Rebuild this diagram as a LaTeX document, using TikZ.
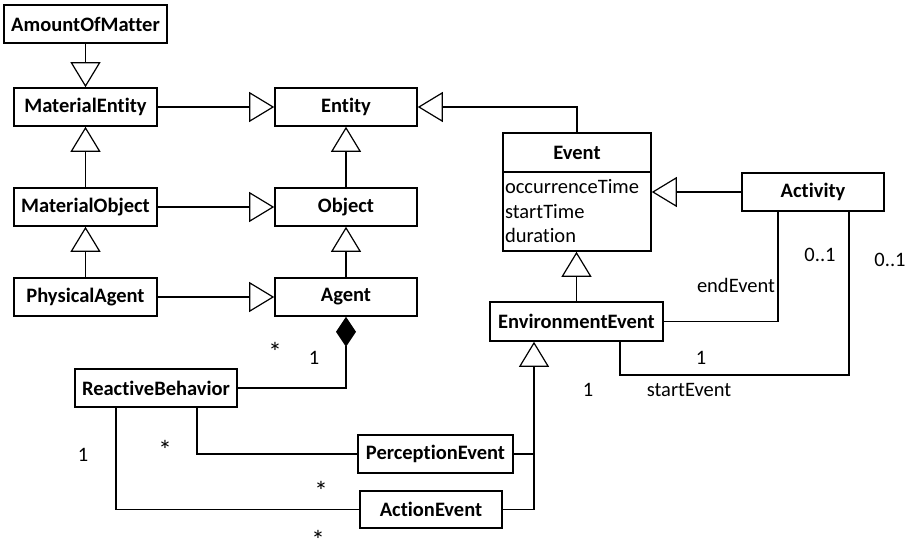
\documentclass[tikz,border=0pt]{standalone}
\usepackage{fontspec}
\setmainfont{Carlito}[Ligatures={NoCommon,NoRare}]
\usetikzlibrary{arrows.meta}
\begin{document}
\begin{tikzpicture}[x=1pt,y=-1pt,
  font=\fontsize{20.5}{24.5}\selectfont,
  cls/.style={draw, line width=1.6pt, inner sep=0pt, font=\fontsize{20.5}{24.5}\selectfont\bfseries, minimum height=38pt},
  conn/.style={line width=1.2pt},
  gen/.style={conn, -{Triangle[open, length=25pt, width=30pt]}},
  comp/.style={conn, {Diamond[length=30pt, width=20pt]}-},
  lbl/.style={inner sep=0pt},
  star/.style={inner sep=0pt, font=\fontsize{27}{30}\selectfont}
]
\useasboundingbox (0,0) rectangle (910,548);
% classes
\node[cls, minimum width=163pt] (aom) at (85.5,24) {AmountOfMatter};
\node[cls, minimum width=143pt] (ment) at (85.5,107) {MaterialEntity};
\node[cls, minimum width=143pt] (mobj) at (85.5,207) {MaterialObject};
\node[cls, minimum width=143pt] (pag) at (85.5,297) {PhysicalAgent};
\node[cls, minimum width=142pt] (ent) at (346,107) {Entity};
\node[cls, minimum width=142pt] (obj) at (346,207) {Object};
\node[cls, minimum width=142pt] (ag) at (346,297) {Agent};
\node[cls, minimum width=148pt, minimum height=39pt] (evh) at (577,152.5) {Event};
\node[draw, line width=1.6pt, minimum width=148pt, minimum height=79pt, inner xsep=2pt, inner ysep=0pt, text width=144pt, align=left] (evb) at (577,211.5) {occurrenceTime\\startTime\\duration};
\node[cls, minimum width=142pt] (act) at (813,192) {Activity};
\node[cls, minimum width=173pt, minimum height=39pt] (env) at (576.5,321.5) {EnvironmentEvent};
\node[cls, minimum width=162pt] (rb) at (156,388) {ReactiveBehavior};
\node[cls, minimum width=155pt] (pe) at (435.5,454) {PerceptionEvent};
\node[cls, minimum width=142pt, minimum height=37pt] (ae) at (431,509.5) {ActionEvent};
% helper coordinates
\coordinate (sb) at (849,375);
\coordinate (gj) at (534,454);
% generalizations
\draw[gen] (aom.south) -- (ment.north);
\draw[gen] (mobj.north) -- (ment.south);
\draw[gen] (pag.north) -- (mobj.south);
\draw[gen] (ment.east) -- (ent.west);
\draw[gen] (mobj.east) -- (obj.west);
\draw[gen] (pag.east) -- (ag.west);
\draw[gen] (obj.north) -- (ent.south);
\draw[gen] (ag.north) -- (obj.south);
\draw[gen] (evh.north) |- (ent.east);
\draw[gen] (act.west) -- (act.west -| evb.east);
\draw[gen] (env.north) -- (env.north |- evb.south);
\draw[gen] (ae.east) -| (gj |- env.south);
\draw[conn] (pe.east) -- (gj);
% associations
\draw[conn] (env.east) -| ([xshift=-35pt]act.south);
\draw[conn] ([xshift=43.5pt]env.south) |- (sb) -- (sb |- act.south);
\draw[comp] (ag.south) |- (rb.east);
\draw[conn] ([xshift=41pt]rb.south) |- (pe.west);
\draw[conn] ([xshift=-40pt]rb.south) |- (ae.west);
% labels
\node[star] (l1) at (275,352) {*};
\node[lbl] (l2) at (314,358) {1};
\node[star] (l3) at (165,450) {*};
\node[lbl] (l4) at (83,455) {1};
\node[star] (l5) at (321,491) {*};
\node[star] (l6) at (318,540) {*};
\node[lbl] (l7) at (820,255) {0..1};
\node[lbl] (l8) at (890,260) {0..1};
\node[lbl] (l9) at (736,285) {endEvent};
\node[lbl] (l10) at (701,358) {1};
\node[lbl] (l11) at (588,390) {1};
\node[lbl] (l12) at (689,390) {startEvent};
\end{tikzpicture}
\end{document}
